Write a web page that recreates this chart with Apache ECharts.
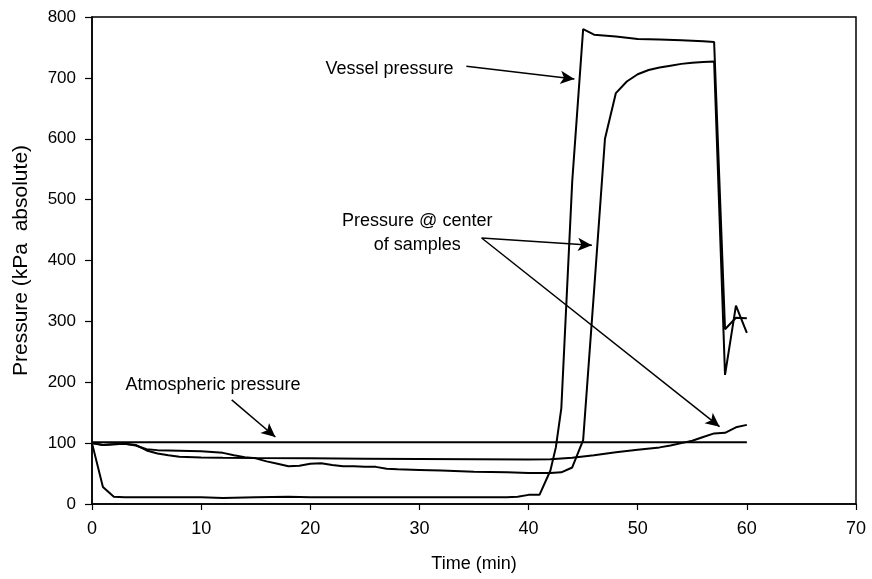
<!DOCTYPE html>
<html>
<head>
<meta charset="utf-8">
<script src="https://cdn.jsdelivr.net/npm/echarts@6/dist/echarts.min.js"></script>
<style>
html,body{margin:0;padding:0;background:#fff;}
#c{width:872px;height:579px;}
</style>
</head>
<body>
<div id="c"></div>
<script>
// ---- Data ----
var xTicks = [0, 10, 20, 30, 40, 50, 60, 70];
var yTicks = [0, 100, 200, 300, 400, 500, 600, 700, 800];

var vesselTime = [0, 1, 2, 3, 5, 8, 10, 12, 15, 18, 20, 22, 25, 28, 30, 33, 35, 38, 39, 40, 41, 42, 42.5, 43, 44, 45, 46, 48, 50, 52, 54, 56, 57, 58, 59, 60];
var vesselP    = [100, 28, 12, 11, 11, 11, 11, 10, 11, 12, 11, 11, 11, 11, 11, 11, 11, 11, 12, 15, 15, 55, 93, 157, 530, 780, 771, 768, 764, 763, 762, 760, 759, 287, 306, 305];

var sampleATime = [0, 1, 2, 3, 4, 5, 6, 8, 10, 12, 13, 14, 15, 16, 17, 18, 19, 20, 21, 22, 23, 24, 25, 26, 27, 28, 30, 32, 35, 38, 40, 42, 43, 44, 45, 46, 47, 48, 49, 50, 51, 52, 53, 54, 55, 56, 57, 58, 59, 60];
var sampleAP    = [100, 97, 98, 99, 96, 90, 88.5, 87.5, 86.5, 84, 80, 77, 75, 70, 66, 62, 63, 66, 67, 64, 62, 62, 61, 61, 58, 57, 56, 55, 53, 52, 51, 51, 52, 60, 105, 350, 600, 675, 694, 706, 713, 717, 720, 723, 725, 726, 727, 212, 326, 281];

var sampleBTime = [0, 1, 2, 3, 4, 5, 6, 7, 8, 10, 12, 15, 20, 25, 30, 35, 40, 42, 44, 46, 48, 50, 52, 53, 54, 55, 56, 57, 58, 59, 60];
var sampleBP    = [100, 97, 98, 99, 97, 88, 83, 80, 77.5, 76.5, 76, 75.5, 75, 74.5, 74, 73.5, 73, 73.5, 76, 80, 85, 89, 93, 96, 100, 104, 110, 116, 117, 126, 130];

var atmTime = [0, 60];
var atmP    = [101.3, 101.3];

// Annotation anchors in data units (time, pressure)
var labels = [
  {text: 'Vessel pressure', at: [21.4, 714], align: 'left'},
  {text: 'Pressure @ center\nof samples', at: [29.8, 445], align: 'center'},
  {text: 'Atmospheric pressure', at: [3.06, 195], align: 'left'}
];
var arrows = [
  [[34.3, 719], [44.2, 698]],
  [[35.7, 437], [45.8, 425]],
  [[35.7, 437], [57.5, 127]],
  [[12.8, 171], [16.8, 110]]
];

function zip(a, b) { return a.map(function (v, i) { return [v, b[i]]; }); }

var FONT = '"Liberation Sans", Arial, sans-serif';
var chart = echarts.init(document.getElementById('c'), null, {renderer: 'canvas'});

var lineCommon = {
  type: 'line', showSymbol: false, symbol: 'none', smooth: false,
  lineStyle: {color: '#000', width: 2}, itemStyle: {color: '#000'},
  animation: false, silent: true
};

chart.setOption({
  animation: false,
  backgroundColor: '#fff',
  grid: {left: 92, right: 16, top: 17, bottom: 75, show: true, borderColor: '#000', borderWidth: 1.5},
  xAxis: {
    type: 'value', min: 0, max: 70, interval: 10,
    name: 'Time (min)', nameLocation: 'middle', nameGap: 51,
    nameTextStyle: {fontFamily: FONT, fontSize: 18, color: '#000'},
    axisLine: {lineStyle: {color: '#000', width: 1.5}},
    axisTick: {show: true, length: 6, lineStyle: {color: '#000', width: 1.2}},
    axisLabel: {fontFamily: FONT, fontSize: 18, color: '#000', margin: 16,
      formatter: function (v) { return xTicks.indexOf(v) >= 0 ? String(v) : ''; }},
    splitLine: {show: false}
  },
  yAxis: {
    type: 'value', min: 0, max: 800, interval: 100,
    name: 'Pressure (kPa  absolute)', nameLocation: 'middle', nameGap: 60,
    nameTextStyle: {fontFamily: FONT, fontSize: 21, color: '#000'},
    axisLine: {lineStyle: {color: '#000', width: 1.5}},
    axisTick: {show: true, length: 7, lineStyle: {color: '#000', width: 1.2}},
    axisLabel: {fontFamily: FONT, fontSize: 17, color: '#000', margin: 16,
      formatter: function (v) { return yTicks.indexOf(v) >= 0 ? String(v) : ''; }},
    splitLine: {show: false}
  },
  series: [
    Object.assign({name: 'Vessel pressure', data: zip(vesselTime, vesselP)}, lineCommon),
    Object.assign({name: 'Pressure @ center of samples A', data: zip(sampleATime, sampleAP)}, lineCommon),
    Object.assign({name: 'Pressure @ center of samples B', data: zip(sampleBTime, sampleBP)}, lineCommon),
    Object.assign({name: 'Atmospheric pressure', data: zip(atmTime, atmP),
      markLine: {
        silent: true, animation: false,
        symbol: ['none', 'arrow'], symbolSize: [10, 14],
        lineStyle: {color: '#000', width: 1.5, type: 'solid'},
        label: {show: false},
        data: arrows.map(function (a) { return [{coord: a[0]}, {coord: a[1]}]; })
      }
    }, lineCommon)
  ]
});

var g = labels.map(function (l) {
  var p = chart.convertToPixel({gridIndex: 0}, l.at);
  return {
    type: 'text', x: p[0], y: p[1], silent: true,
    style: {text: l.text, fill: '#000', font: '18px ' + FONT, align: l.align, verticalAlign: 'middle', lineHeight: 24}
  };
});
chart.setOption({graphic: g});
</script>
</body>
</html>
